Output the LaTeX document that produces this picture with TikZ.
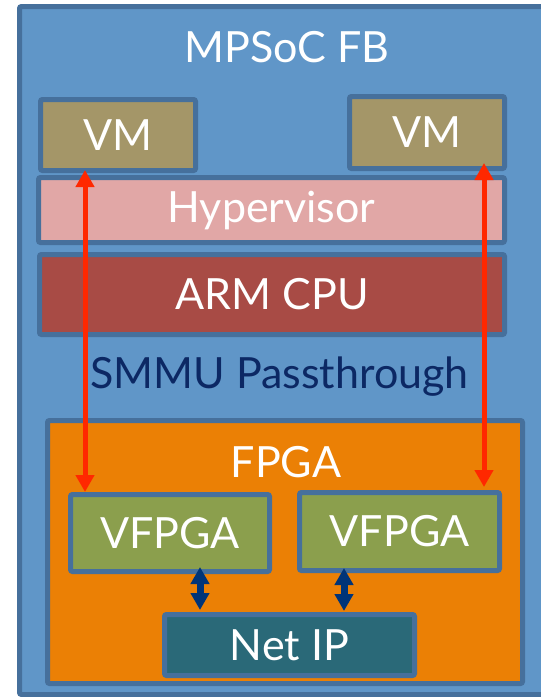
\documentclass[tikz,border=0pt]{standalone}
\usepackage{fontspec}
\setmainfont{Lato}
\usetikzlibrary{arrows.meta}

\definecolor{socfill}{RGB}{96,150,200}
\definecolor{edgeblue}{RGB}{70,112,156}
\definecolor{vmfill}{RGB}{164,150,104}
\definecolor{hypfill}{RGB}{225,167,166}
\definecolor{armfill}{RGB}{168,75,69}
\definecolor{fpgafill}{RGB}{235,128,5}
\definecolor{vfpgafill}{RGB}{139,159,77}
\definecolor{netfill}{RGB}{42,105,120}
\definecolor{linkred}{RGB}{255,40,0}
\definecolor{linknavy}{RGB}{0,52,120}
\definecolor{labelnavy}{RGB}{12,40,100}

\tikzset{
  block/.style={draw=edgeblue, line width=5pt, rounded corners=2pt,
    inner sep=0pt, text=white, font=\fontsize{43}{43}\selectfont},
  layer/.style={inner sep=0pt, font=\fontsize{43}{43}\selectfont},
  redlink/.style={draw=linkred, line width=5pt,
    {Triangle[length=17pt,width=18pt]}-{Triangle[length=17pt,width=18pt]}},
  navylink/.style={draw=linknavy, line width=7pt,
    {Triangle[length=17pt,width=18pt]}-{Triangle[length=17pt,width=18pt]}}
}

\begin{document}
\begin{tikzpicture}[x=1pt,y=-1pt]
  \useasboundingbox (0,0) rectangle (541,697);
  \clip (0,0) rectangle (541,697);
  \fill[white] (0,0) rectangle (541,697);

  % MPSoC board
  \draw[fill=socfill, draw=edgeblue, line width=5pt, rounded corners=2pt]
    (19.5,6.5) rectangle (548,694.5);
  \node[layer, text=white] (soc) at (287,47.5) {MPSoC FB};

  % software side
  \node[block, fill=vmfill, minimum width=155pt, minimum height=71pt]
    (vmA) at (118,135) {VM};
  \node[block, fill=vmfill, minimum width=155pt, minimum height=72pt]
    (vmB) at (427,132.5) {VM};
  \node[block, fill=hypfill, minimum width=466pt, minimum height=65pt]
    (hyp) at (271.5,210) {Hypervisor};
  \node[block, fill=armfill, minimum width=465pt, minimum height=80pt]
    (arm) at (272,294.5) {ARM CPU};
  \node[layer, text=labelnavy] (smmu) at (279.5,376.5) {SMMU Passthrough};

  % programmable logic
  \node[block, fill=fpgafill, minimum width=475pt, minimum height=263pt]
    (fpga) at (285,552) {};
  \node[layer, text=white] (fpgalabel) at (286,462.5) {FPGA};
  \node[block, fill=vfpgafill, minimum width=199pt, minimum height=77pt]
    (vfA) at (170,533) {VFPGA};
  \node[block, fill=vfpgafill, minimum width=200pt, minimum height=78pt]
    (vfB) at (399.5,531.5) {VFPGA};
  \node[block, fill=netfill, minimum width=250pt, minimum height=61pt]
    (net) at (289.5,645) {Net IP};

  % VM <-> VFPGA passthrough links
  \draw[redlink, shorten <=-3pt]
    ([xshift=-33pt]vmA.south) -- ([xshift=-33pt]vmA.south |- vfA.north);
  \draw[redlink, shorten <=-8pt, shorten >=3pt]
    ([xshift=57pt]vmB.south) -- ([xshift=57pt]vmB.south |- vfB.north);

  % VFPGA <-> Net IP links
  \draw[navylink, shorten <=-7pt, shorten >=2pt]
    ([xshift=30pt]vfA.south) -- ([xshift=30pt]vfA.south |- net.north);
  \draw[navylink, shorten <=-5pt, shorten >=1pt]
    ([xshift=-55.5pt]vfB.south) -- ([xshift=-55.5pt]vfB.south |- net.north);
\end{tikzpicture}
\end{document}
